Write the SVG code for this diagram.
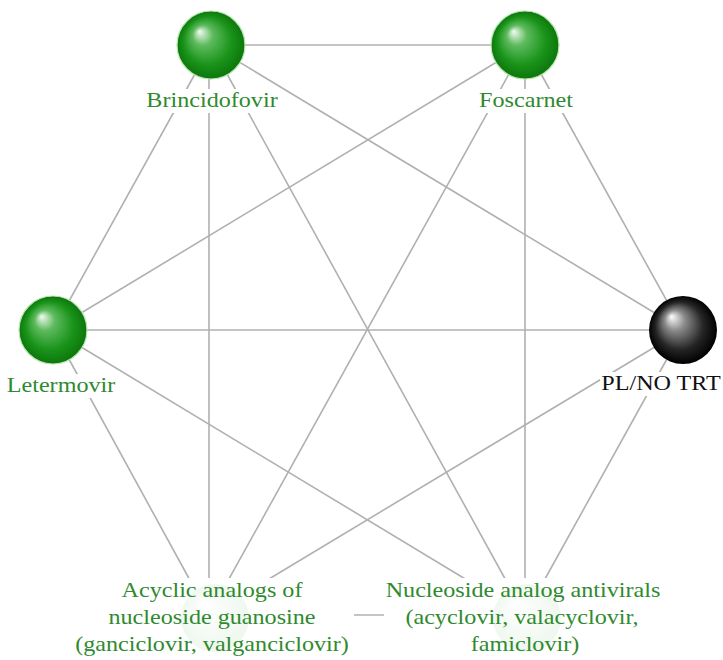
<svg xmlns="http://www.w3.org/2000/svg" width="723" height="660" viewBox="0 0 723 660">
<defs>
<radialGradient id="gG" cx="0.5" cy="0.5" r="0.5" fx="0.33" fy="0.3">
<stop offset="0" stop-color="#f2fbf2"/>
<stop offset="0.3" stop-color="#5dba5d"/>
<stop offset="0.7" stop-color="#1a941a"/>
<stop offset="1" stop-color="#0c760c"/>
</radialGradient>
<radialGradient id="gK" cx="0.5" cy="0.5" r="0.5" fx="0.33" fy="0.3">
<stop offset="0" stop-color="#ffffff"/>
<stop offset="0.3" stop-color="#8a8a8a"/>
<stop offset="0.7" stop-color="#252525"/>
<stop offset="1" stop-color="#000000"/>
</radialGradient>
<radialGradient id="gF" cx="0.5" cy="0.5" r="0.5" fx="0.33" fy="0.3">
<stop offset="0" stop-color="#ffffff"/>
<stop offset="1" stop-color="#e4f2e4"/>
</radialGradient>
</defs>
<style>
.e{stroke:#b0b0b0;stroke-width:1.6;fill:none}
.t{font-family:"Liberation Serif","Times New Roman",serif;font-size:21px;fill:#2f8a2f;text-anchor:middle}
.k{fill:#111}
.bg{fill:#ffffff}
.s{stroke:#b8e6b0;stroke-width:1.2}
</style>
<rect width="723" height="660" fill="#ffffff"/>
<g id="edges">
<line class="e" x1="211" y1="45" x2="525" y2="45"/>
<line class="e" x1="211" y1="45" x2="53" y2="330"/>
<line class="e" x1="211" y1="45" x2="683" y2="330"/>
<line class="e" x1="209" y1="45" x2="209" y2="615"/>
<line class="e" x1="211" y1="45" x2="525" y2="615"/>
<line class="e" x1="525" y1="45" x2="53" y2="330"/>
<line class="e" x1="525" y1="45" x2="683" y2="330"/>
<line class="e" x1="525" y1="45" x2="209" y2="615"/>
<line class="e" x1="525" y1="45" x2="525" y2="615"/>
<line class="e" x1="53" y1="330" x2="683" y2="330"/>
<line class="e" x1="53" y1="330" x2="209" y2="615"/>
<line class="e" x1="53" y1="330" x2="525" y2="615"/>
<line class="e" x1="683" y1="330" x2="209" y2="615"/>
<line class="e" x1="683" y1="330" x2="525" y2="615"/>
<line class="e" x1="209" y1="615" x2="525" y2="615"/>
</g>
<g id="node-brincidofovir">
<circle cx="211" cy="45" r="34" fill="url(#gG)" class="s"/>
<rect class="bg" x="144" y="89" width="136" height="24"/>
<text class="t" transform="translate(212 107) scale(1.15 1)">Brincidofovir</text>
</g>
<g id="node-foscarnet">
<circle cx="525" cy="45" r="34" fill="url(#gG)" class="s"/>
<rect class="bg" x="477" y="89" width="98" height="24"/>
<text class="t" transform="translate(526 107) scale(1.15 1)">Foscarnet</text>
</g>
<g id="node-letermovir">
<circle cx="53" cy="330" r="34" fill="url(#gG)" class="s"/>
<rect class="bg" x="5" y="374" width="112" height="24"/>
<text class="t" transform="translate(61 392) scale(1.15 1)">Letermovir</text>
</g>
<g id="node-pl">
<circle cx="683" cy="330" r="34" fill="url(#gK)"/>
<rect class="bg" x="600" y="372" width="123" height="24"/>
<text class="t k" transform="translate(661 390) scale(1.15 1)">PL/NO TRT</text>
</g>
<g id="node-acyclic">
<rect class="bg" x="66" y="578" width="288" height="80"/>
<circle cx="215" cy="618" r="34" fill="url(#gF)" opacity="0.6"/>
<text class="t" transform="translate(212 597) scale(1.15 1)">Acyclic analogs of</text>
<text class="t" transform="translate(212 624) scale(1.15 1)">nucleoside guanosine</text>
<text class="t" transform="translate(212 651) scale(1.15 1)">(ganciclovir, valganciclovir)</text>
</g>
<g id="node-nucleoside">
<rect class="bg" x="384" y="578" width="282" height="80"/>
<circle cx="527" cy="618" r="34" fill="url(#gF)" opacity="0.6"/>
<text class="t" transform="translate(523 597) scale(1.15 1)">Nucleoside analog antivirals</text>
<text class="t" transform="translate(522 624) scale(1.15 1)">(acyclovir, valacyclovir,</text>
<text class="t" transform="translate(525 651) scale(1.15 1)">famiclovir)</text>
</g>
</svg>
